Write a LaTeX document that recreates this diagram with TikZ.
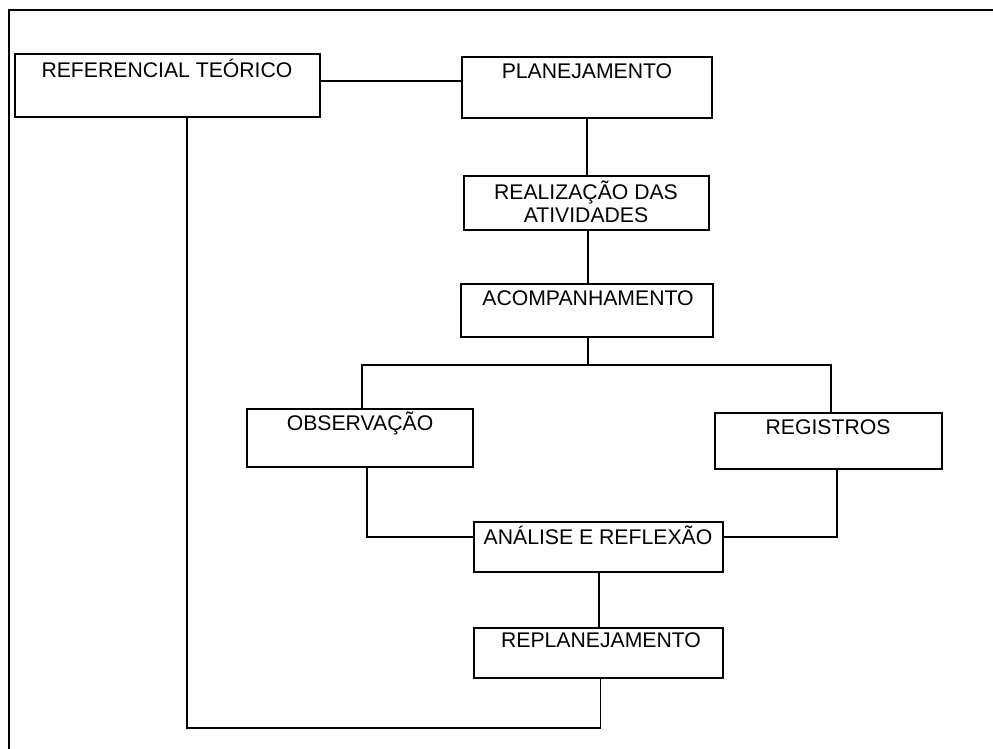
\documentclass[tikz,border=0pt]{standalone}
\usepackage{fontspec}
\setmainfont{Liberation Sans}
\begin{document}
\begin{tikzpicture}[x=1pt,y=-1pt,
  box/.style={draw,line width=1.6pt,rectangle,inner sep=0pt},
  lbl/.style={font=\fontsize{21.2}{22}\selectfont,inner sep=0pt,align=center},
  link/.style={line width=1.6pt}]
\useasboundingbox (0,0) rectangle (993,749);
\draw[line width=2.2pt] (993,10) -- (9,10) -- (9,749);
% boxes
\node[box,minimum width=305pt,minimum height=63pt] (ref) at (167.5,85.5) {};
\node[box,minimum width=250pt,minimum height=61pt] (plan) at (587,87.5) {};
\node[box,minimum width=245pt,minimum height=54pt] (real) at (586.5,203) {};
\node[box,minimum width=252pt,minimum height=53pt] (acomp) at (587,310.5) {};
\node[box,minimum width=226pt,minimum height=58pt] (obs) at (360,438) {};
\node[box,minimum width=227pt,minimum height=56pt] (reg) at (828.5,441) {};
\node[box,minimum width=249pt,minimum height=50pt] (anal) at (598.5,547) {};
\node[box,minimum width=249pt,minimum height=50pt] (repl) at (598.5,653) {};
% texts
\node[lbl] (tref) at (167,68) {REFERENCIAL TEÓRICO};
\node[lbl] (tplan) at (587,71) {PLANEJAMENTO};
\node[lbl,font=\fontsize{21.2}{23}\selectfont] (treal) at (586,202) {REALIZAÇÃO DAS\\ATIVIDADES};
\node[lbl] (tacomp) at (588,298) {ACOMPANHAMENTO};
\node[lbl] (tobs) at (360,423) {OBSERVAÇÃO};
\node[lbl] (treg) at (828,427) {REGISTROS};
\node[lbl] (tanal) at (598,535) {ANÁLISE E REFLEXÃO};
\node[lbl] (trepl) at (601,640) {REPLANEJAMENTO};
% connectors
\coordinate (split) at (588,365);
\draw[link] ([yshift=4.5pt]ref.east) coordinate (r1) -- (r1 -| plan.west);
\draw[link] (plan.south) -- (plan.south |- real.north);
\draw[link] ([xshift=1.5pt]real.south) coordinate (r2) -- (r2 |- acomp.north);
\draw[link] ([xshift=1pt]acomp.south) -- (split);
\draw[link] ([xshift=2pt]obs.north) |- (split) -| ([xshift=2.5pt]reg.north);
\draw[link] ([xshift=7pt]obs.south) |- ([yshift=10pt]anal.west);
\draw[link] ([xshift=8.5pt]reg.south) |- ([yshift=10pt]anal.east);
\draw[link] ([xshift=0.5pt]anal.south) coordinate (r4) -- (r4 |- repl.north);
\draw[link] ([xshift=2pt]repl.south) coordinate (r3) -- (r3 |- 0,728) -| ([xshift=19.5pt]ref.south);
\end{tikzpicture}
\end{document}
